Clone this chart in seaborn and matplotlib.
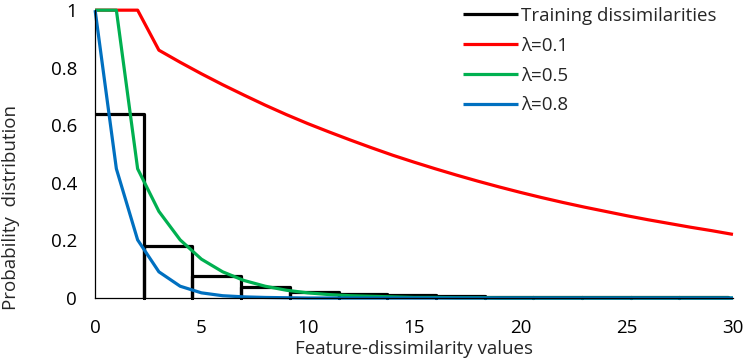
import numpy as np
import pandas as pd
import seaborn as sns
import matplotlib.pyplot as plt

# datos
x_vals = list(range(0, 31))
red_vals = [1, 1, 1, 0.861, 0.819, 0.779, 0.741, 0.705, 0.670, 0.637, 0.606,
            0.577, 0.549, 0.522, 0.496, 0.472, 0.449, 0.427, 0.406, 0.386, 0.367,
            0.349, 0.332, 0.316, 0.301, 0.286, 0.272, 0.259, 0.246, 0.234, 0.221]
green_vals = [1, 1, 0.449, 0.301, 0.202, 0.135, 0.091, 0.061, 0.041, 0.027, 0.018,
              0.012, 0.008, 0.006, 0.004, 0.002, 0.002, 0.001, 0.001, 0, 0,
              0, 0, 0, 0, 0, 0, 0, 0, 0, 0]
blue_vals = [1, 0.449, 0.202, 0.091, 0.041, 0.018, 0.008, 0.004, 0.002, 0.001, 0,
             0, 0, 0, 0, 0, 0, 0, 0, 0, 0,
             0, 0, 0, 0, 0, 0, 0, 0, 0, 0]
bin_width = 2.29
hist_heights = [0.641, 0.182, 0.076, 0.037, 0.020, 0.013, 0.009, 0.006,
                0.005, 0.004, 0.003, 0.002, 0.002]
series_names = ['λ=0.1', 'λ=0.5', 'λ=0.8']
series_colors = ['#FF0000', '#00B050', '#0070C0']

sns.set_style('white')
plt.rcParams['font.family'] = ['Open Sans', 'DejaVu Sans']

# contorno del histograma
hx, hy = [], []
for i, h in enumerate(hist_heights):
    left = i * bin_width
    right = left + bin_width
    hx += [left, right, right]
    hy += [h, h, 0]
df_hist = pd.DataFrame({'x': hx, 'y': hy})

df_curvas = pd.concat([
    pd.DataFrame({'x': x_vals, 'y': vals, 'serie': name})
    for name, vals in zip(series_names, [red_vals, green_vals, blue_vals])
])

fig = plt.figure(figsize=(7.43, 3.63), dpi=100)
ax = fig.add_axes([0.128, 0.179, 0.8585, 0.793])

sns.lineplot(data=df_hist, x='x', y='y', sort=False, estimator=None, color='black',
             lw=2.3, ax=ax, label='Training dissimilarities')
sns.lineplot(data=df_curvas, x='x', y='y', hue='serie', palette=series_colors,
             sort=False, estimator=None, lw=2.3, ax=ax)
for ln in ax.get_lines():
    ln.set_clip_on(False)
    ln.set_solid_capstyle('butt')

ax.set_xlim(0, 30)
ax.set_ylim(0, 1)
ax.set_xticks(range(0, 31, 5))
ax.set_yticks([0, 0.2, 0.4, 0.6, 0.8, 1])
ax.set_yticklabels(['0', '0.2', '0.4', '0.6', '0.8', '1'])
ax.tick_params(axis='both', length=0, labelsize=13.5, colors='black')
ax.tick_params(axis='x', pad=15)
ax.tick_params(axis='y', pad=13)
for s in ['top', 'right']:
    ax.spines[s].set_visible(False)
for s in ['left', 'bottom']:
    ax.spines[s].set_color('black')
    ax.spines[s].set_linewidth(0.9)

ax.set_xlabel('Feature-dissimilarity values', fontsize=13.5)
ax.xaxis.set_label_coords(0.5, -0.145)
ax.set_ylabel('Probability  distribution', fontsize=13.5)
ax.yaxis.set_label_coords(-0.117, 0.316)

handles, labels = ax.get_legend_handles_labels()
ax.legend(handles, labels, loc='upper right', bbox_to_anchor=(1.0, 1.07), frameon=False,
          fontsize=13.5, handlelength=2.9, handletextpad=0.15, labelspacing=0.63)

plt.savefig('out.png', dpi=100)
